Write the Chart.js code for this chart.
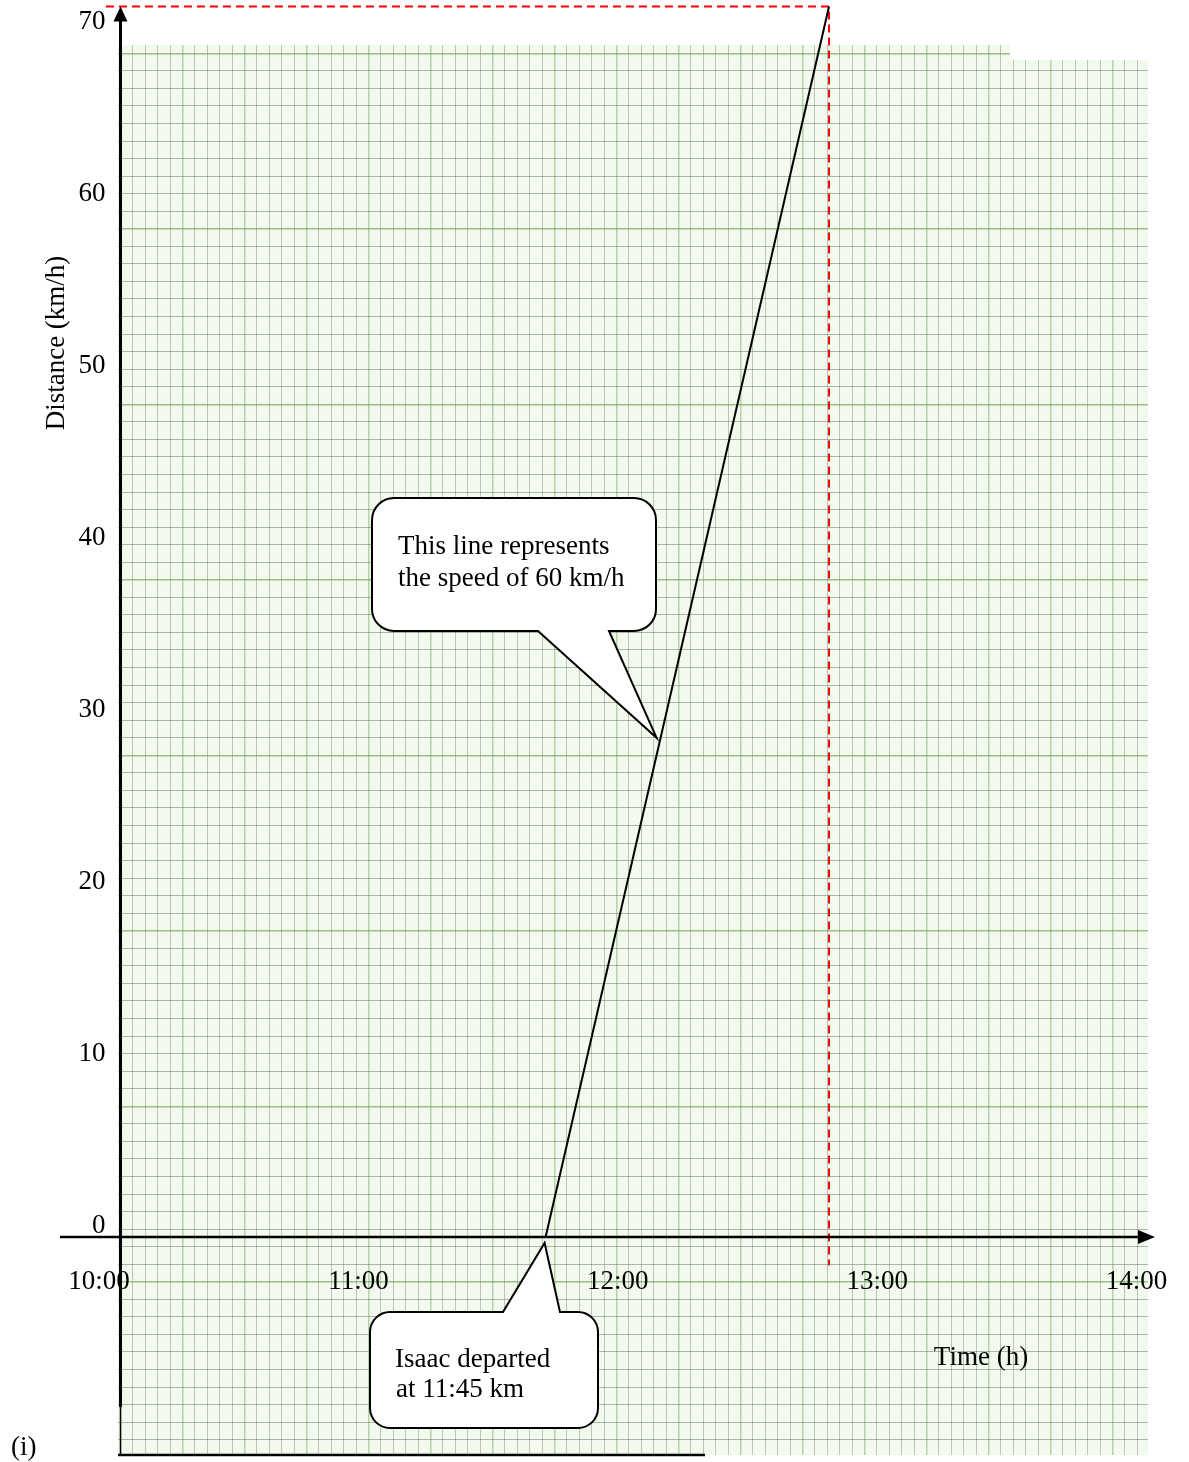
<!DOCTYPE html>
<html>
<head>
<meta charset="utf-8">
<title>Isaac distance-time graph</title>
<script src="https://cdn.jsdelivr.net/npm/chart.js@4.4.1/dist/chart.umd.min.js"></script>
<style>
    html, body { margin: 0; padding: 0; background: #ffffff; }
    #graph { display: block; }
</style>
</head>
<body>
<canvas id="graph" width="1189" height="1462"></canvas>
<script>
// Isaac leaves at 11:45 and drives at 60 km/h -> 70 km reached at 12:55
const departTimes     = [11.75, 12 + 55 / 60];
const departDistances = [0, 70];

// red dashed guide: across at 70 km, then down from 12:55
const guideTimes     = [9.94, 12 + 55 / 60, 12 + 55 / 60];
const guideDistances = [70, 70, -1.6];

// tick labels
const xTickValues = [10, 11, 12, 13, 14];
const xTickLabels = ["10:00", "11:00", "12:00", "13:00", "14:00"];
const yTickValues = [0, 10, 20, 30, 40, 50, 60, 70];
const yTickLabels = ["0", "10", "20", "30", "40", "50", "60", "70"];

const SERIF = "27px 'Liberation Serif', 'Times New Roman', serif";

/* -------- helpers -------- */

function toPoints(xs, ys) {
    return xs.map((x, i) => ({ x: x, y: ys[i] }));
}

function calloutPath(ctx, box, tail) {
    const l = box.l, t = box.t, r = box.r, b = box.b, rr = box.radius;
    ctx.beginPath();
    ctx.moveTo(l + rr, t);
    if (tail.side === "top") {
        ctx.lineTo(tail.a, t);
        ctx.lineTo(tail.tip.x, tail.tip.y);
        ctx.lineTo(tail.b, t);
    }
    ctx.lineTo(r - rr, t);
    ctx.arcTo(r, t, r, t + rr, rr);
    ctx.lineTo(r, b - rr);
    ctx.arcTo(r, b, r - rr, b, rr);
    if (tail.side === "bottom") {
        ctx.lineTo(tail.b, b);
        ctx.lineTo(tail.tip.x, tail.tip.y);
        ctx.lineTo(tail.a, b);
    }
    ctx.lineTo(l + rr, b);
    ctx.arcTo(l, b, l, b - rr, rr);
    ctx.lineTo(l, t + rr);
    ctx.arcTo(l, t, l + rr, t, rr);
    ctx.closePath();
    ctx.fillStyle = "#ffffff";
    ctx.fill();
    ctx.lineWidth = 2;
    ctx.strokeStyle = "#000000";
    ctx.stroke();
}

/* -------- graph paper + annotations -------- */

const paperPlugin = {
    id: "paper",
    beforeDraw(chart) {
        const { ctx, chartArea: a } = chart;
        ctx.save();
        ctx.fillStyle = "rgb(242, 249, 237)";
        ctx.fillRect(a.left, a.top, a.right - a.left, a.bottom - a.top);
        ctx.restore();
    },
    beforeDatasetsDraw(chart) {
        // the right sheet of paper starts a little lower
        const { ctx, chartArea: a } = chart;
        ctx.save();
        ctx.fillStyle = "#ffffff";
        ctx.fillRect(1010, a.top - 2, a.right - 1010 + 2, 17);
        ctx.restore();
    },
    afterDatasetsDraw(chart) {
        const { ctx } = chart;
        const sx = chart.scales.x, sy = chart.scales.y;
        const x0 = sx.getPixelForValue(10);
        const y0 = sy.getPixelForValue(0);
        const yTop = sy.getPixelForValue(70);

        ctx.save();
        ctx.strokeStyle = "#000000";
        ctx.fillStyle = "#000000";

        // vertical axis
        ctx.lineWidth = 3;
        ctx.beginPath();
        ctx.moveTo(x0, yTop + 12);
        ctx.lineTo(x0, 1407);
        ctx.stroke();
        ctx.lineWidth = 1.5;
        ctx.beginPath();
        ctx.moveTo(x0, 1407);
        ctx.lineTo(x0, 1456);
        ctx.stroke();
        ctx.beginPath();
        ctx.moveTo(x0, yTop);
        ctx.lineTo(x0 - 7, yTop + 15);
        ctx.lineTo(x0 + 7, yTop + 15);
        ctx.closePath();
        ctx.fill();

        // horizontal axis
        ctx.lineWidth = 2.5;
        ctx.beginPath();
        ctx.moveTo(60, y0);
        ctx.lineTo(1140, y0);
        ctx.stroke();
        ctx.beginPath();
        ctx.moveTo(1155, y0);
        ctx.lineTo(1138, y0 - 7);
        ctx.lineTo(1138, y0 + 7);
        ctx.closePath();
        ctx.fill();

        // bottom edge line
        ctx.lineWidth = 2.5;
        ctx.beginPath();
        ctx.moveTo(118, 1455);
        ctx.lineTo(705, 1455);
        ctx.stroke();

        // callout pointing at the line
        const anchorKm = 28.4;
        const anchorT = departTimes[0] + anchorKm / 60;
        calloutPath(ctx,
            { l: 372, t: 498, r: 656, b: 631, radius: 22 },
            { side: "bottom", a: 538, b: 609,
              tip: { x: sx.getPixelForValue(anchorT) - 4, y: sy.getPixelForValue(anchorKm) } });

        // callout pointing at the departure
        calloutPath(ctx,
            { l: 370, t: 1312, r: 598, b: 1428, radius: 20 },
            { side: "top", a: 503, b: 560,
              tip: { x: sx.getPixelForValue(departTimes[0]) - 1, y: y0 + 6 } });

        ctx.font = SERIF;
        ctx.fillStyle = "#000000";
        ctx.textBaseline = "middle";
        ctx.textAlign = "left";
        ctx.fillText("This line represents", 398, 547);
        ctx.fillText("the speed of 60 km/h", 398, 579);
        ctx.fillText("Isaac departed", 395, 1360);
        ctx.fillText("at 11:45 km", 396, 1390);
        ctx.restore();
    },
    afterDraw(chart) {
        const { ctx } = chart;
        const sx = chart.scales.x, sy = chart.scales.y;
        const xt = chart.scales.xt, yt = chart.scales.yt;
        const x0 = sx.getPixelForValue(10);
        const y0 = sy.getPixelForValue(0);

        ctx.save();
        ctx.font = SERIF;
        ctx.fillStyle = "#000000";
        ctx.textBaseline = "middle";

        ctx.textAlign = "center";
        xTickValues.forEach((v, i) => {
            ctx.fillText(xTickLabels[i], xt.getPixelForValue(v), y0 + 45);
        });

        ctx.textAlign = "right";
        yTickValues.forEach((v, i) => {
            ctx.fillText(yTickLabels[i], x0 - 15, yt.getPixelForValue(v));
        });

        // axis titles
        ctx.textAlign = "center";
        ctx.fillText("Time (h)", 981, 1358);
        ctx.save();
        ctx.translate(57, 343);
        ctx.rotate(-Math.PI / 2);
        ctx.fillText("Distance (km/h)", 0, 0);
        ctx.restore();

        ctx.textAlign = "left";
        ctx.fillText("(i)", 11, 1448);
        ctx.restore();
    }
};

/* -------- chart -------- */

const paperGrid = (step, minor, major) => ({
    drawTicks: false,
    color: c => (c.tick && Math.round(c.tick.value) % step === 0) ? major : minor,
    lineWidth: c => (c.tick && Math.round(c.tick.value) % step === 0) ? 1.5 : 1
});

new Chart(document.getElementById("graph"), {
    type: "line",
    data: {
        datasets: [
            {
                label: "Isaac",
                data: toPoints(departTimes, departDistances),
                borderColor: "#000000",
                borderWidth: 2,
                pointRadius: 0,
                tension: 0,
                clip: false
            },
            {
                label: "guide",
                data: toPoints(guideTimes, guideDistances),
                borderColor: "#ff0000",
                borderWidth: 2,
                borderDash: [8, 5],
                pointRadius: 0,
                tension: 0,
                clip: false
            }
        ]
    },
    options: {
        responsive: false,
        animation: false,
        devicePixelRatio: 1,
        layout: { padding: { left: 118, right: 41, top: 45, bottom: 7 } },
        plugins: { legend: { display: false }, tooltip: { enabled: false } },
        scales: {
            x:  { type: "linear", display: false, min: 9.98973, max: 14.22977 },
            y:  { type: "linear", display: false, min: -12.40, max: 67.81 },
            // where the typed tick labels sit
            xt: { type: "linear", axis: "x", display: false, min: 10.0732, max: 14.0439 },
            yt: { type: "linear", axis: "y", display: false, min: -13.32, max: 68.66 },
            // graph paper rulings
            gx: {
                type: "linear", axis: "x", position: "bottom",
                min: -0.2, max: 82.86,
                ticks: { display: false, stepSize: 1, maxTicksLimit: 1000, includeBounds: false },
                border: { display: false },
                grid: paperGrid(5, "rgba(105, 120, 98, 0.40)", "rgba(120, 175, 100, 0.50)")
            },
            gy: {
                type: "linear", axis: "y", position: "left", reverse: true,
                min: -0.473, max: 79.87,
                ticks: { display: false, stepSize: 1, maxTicksLimit: 1000, includeBounds: false },
                border: { display: false },
                grid: paperGrid(10, "rgba(95, 108, 90, 0.48)", "rgba(100, 150, 80, 0.60)")
            }
        }
    },
    plugins: [paperPlugin]
});
</script>
</body>
</html>
